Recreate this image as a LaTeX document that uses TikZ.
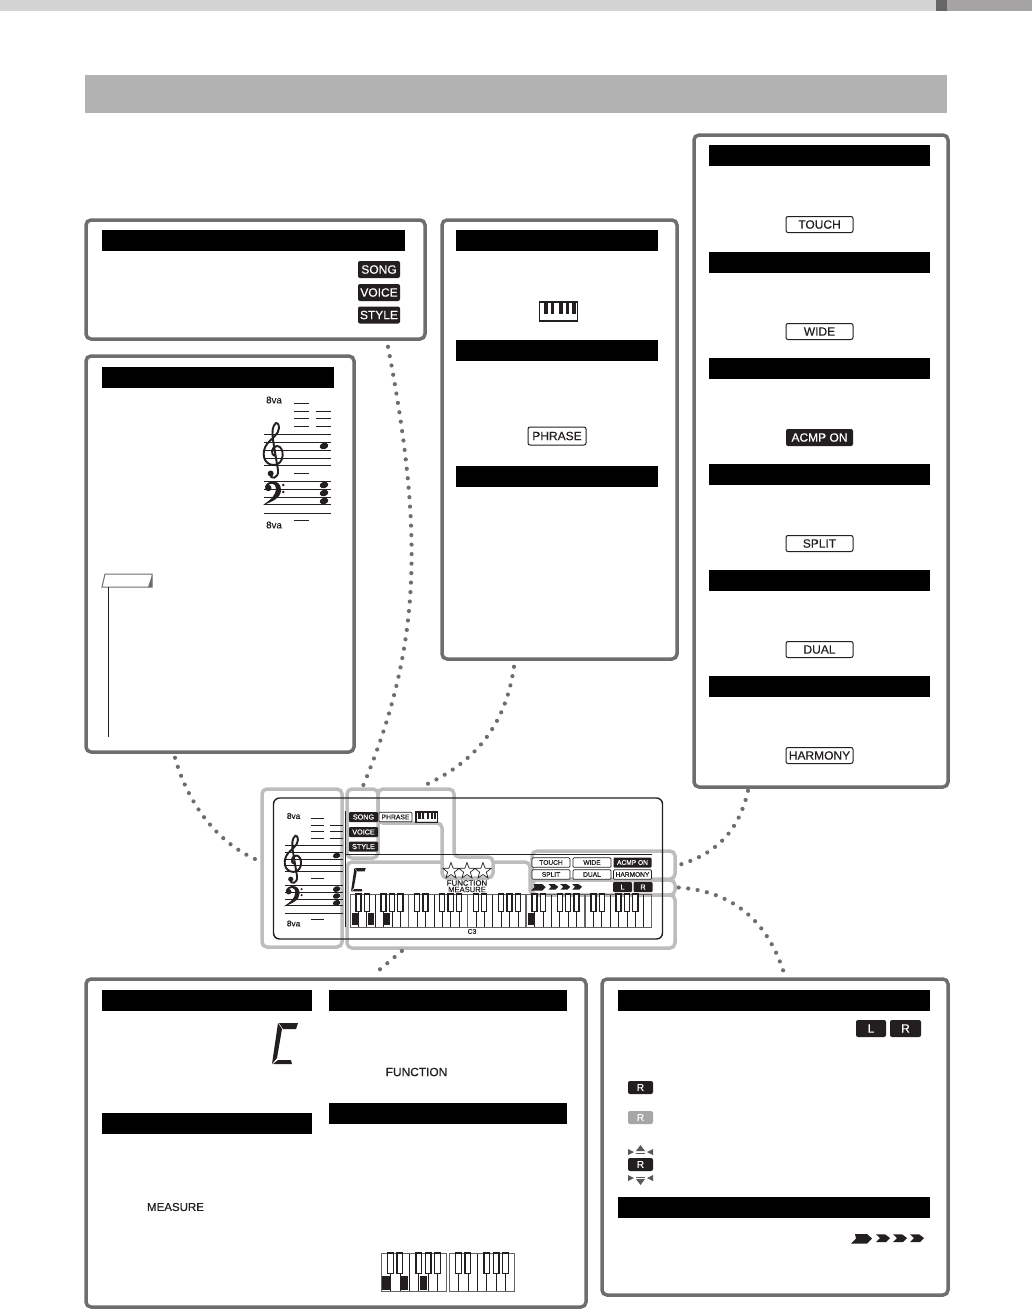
\documentclass[tikz,border=0pt]{standalone}
\usepackage{fontspec}
\setmainfont[FakeBold=.4]{Liberation Sans}
\usepackage{xcolor}
\definecolor{topl}{HTML}{D3D3D3}
\definecolor{topm}{HTML}{666666}
\definecolor{topr}{HTML}{A5A3A3}
\definecolor{band}{HTML}{B2B2B2}
\definecolor{edge}{HTML}{6E6E6E}
\definecolor{hilite}{HTML}{BDBDBD}
\definecolor{ink}{HTML}{231F20}
\usetikzlibrary{arrows.meta,positioning,calc,shapes.geometric}
\tikzset{
  panel/.style={draw=edge,line width=3.5pt,rounded corners=5pt,fill=white,inner sep=0pt},
  hdr/.style={fill=black,inner sep=0pt,minimum height=21pt},
  bigon/.style={fill=ink,text=white,rounded corners=2pt,inner sep=0pt,minimum height=17pt,font=\fontsize{12}{12}\selectfont},
  bigoff/.style={draw=ink,line width=1pt,fill=white,text=ink,rounded corners=2pt,inner sep=0pt,minimum height=16pt,font=\fontsize{12}{12}\selectfont},
  lcdon/.style={fill=ink,text=white,rounded corners=1pt,inner sep=0pt,minimum height=10pt,font=\fontsize{7.2}{7.2}\selectfont},
  lcdoff/.style={draw=ink,line width=.7pt,fill=white,text=ink,rounded corners=1pt,inner sep=0pt,minimum height=9.5pt,font=\fontsize{7}{7}\selectfont},
  lbl/.style={inner sep=0pt,text=ink},
  callout/.style={draw=hilite,line width=3.5pt,rounded corners=5pt},
  dotlink/.style={draw=edge,line width=4.2pt,line cap=round,dash pattern=on 0pt off 9.5pt},
  keyline/.style={draw=ink,line width=.6pt},
  blackkey/.style={draw=ink,line width=1.3pt,fill=white},
}
% x, y, key width, height, last divider
\newcommand{\octave}[5]{%
  \begin{scope}[shift={(#1,#2)}]
    \foreach \k in {1,...,#5}{ \draw[keyline] (\k*#3,0) -- (\k*#3,#4); }
    \pgfmathtruncatemacro{\nkeys}{#5+1}
    \draw[keyline,draw=ink!70] (0,0) rectangle (\nkeys*#3-.6,#4);
    \foreach \b in {1,2,4,5,6}{ \draw[blackkey] (\b*#3-.3*#3,0) rectangle (\b*#3+.3*#3,.54*#4); }
  \end{scope}}
\newcommand{\litkey}[4]{\fill[ink] (#1,#2) rectangle ++(.72*#3,#4);}
\newcommand{\lcddigit}[3]{%
  \begin{scope}[shift={(#1,#2)},scale=#3]
    \fill[ink] (6,0) -- (10,6) -- (5,35) -- (0,41) -- cycle;
    \fill[ink] (7,0) -- (26,0) -- (24,6) -- (11,6) -- cycle;
    \fill[ink] (1,41) -- (6,37) -- (19,37) -- (20,41) -- cycle;
  \end{scope}}
\newcommand{\chevrons}[3]{%
  \begin{scope}[shift={(#1,#2)},scale=#3]
    \fill[ink] (4,0) -- (16,0) -- (21,4.5) -- (16,9.5) -- (0,9.5) -- (5,4.5) -- cycle;
    \foreach \i in {0,1,2}{ \fill[ink] (25+\i*17,.3) -- (34+\i*17,.3) -- (39+\i*17,4) -- (35+\i*17,8) -- (25+\i*17,8) -- (29+\i*17,4) -- cycle; }
  \end{scope}}
\newcommand{\staffs}[3]{%
  \begin{scope}[shift={(#1,#2)},scale=#3,every node/.style={transform shape}]
    \node[lbl,font=\fontsize{9.7}{9.7}\selectfont] (#1oct) at (10,0) {8va};
    \node[lbl,font=\fontsize{9.7}{9.7}\selectfont] (#1ocb) at (10,125) {8va};
    \foreach \y in {3,11,18,26,73,120}{ \draw[ink,line width=.9pt] (30,\y) -- (45,\y); }
    \foreach \y in {11,18,26}{ \draw[ink,line width=.9pt] (52,\y) -- (67,\y); }
    \foreach \y in {34,42,50,58,65,81,89,97,104,113}{ \draw[ink,line width=.9pt] (0,\y) -- (67,\y); }
    \foreach \y in {46,85,93,101}{ \fill[ink,rotate around={18:(60,\y)}] (60,\y) ellipse (4.4 and 3.2); }
    \draw[ink,line width=1.9pt] (12,56) .. controls (5,55) and (8,46) .. (13,46) .. controls (21,46) and (21,65) .. (10,65)
      .. controls (-1,65) and (-3,52) .. (3,44) .. controls (8,38) and (15,34) .. (15,28)
      .. controls (15,24) and (13,22) .. (12,23) .. controls (8,26) and (8,33) .. (9,40) -- (14,70)
      .. controls (15,79) and (6,80) .. (6,74);
    \fill[ink] (6.7,73.5) circle (3);
    \fill[ink] (1,87) .. controls (2,80) and (17,78) .. (17,90) .. controls (17,98) and (8,102) .. (-1,105)
      .. controls (6,100) and (12,96) .. (12,88) .. controls (12,83) and (5,82) .. (3,87) -- cycle;
    \fill[ink] (4.3,88) circle (3.2) (19.3,85) circle (1.4) (19.3,92) circle (1.4);
  \end{scope}}
\newcommand{\kbdicon}[3]{%
  \begin{scope}[shift={(#1,#2)},scale=#3]
    \draw[ink,line width=1.2pt] (0,0) rectangle (38,19);
    \foreach \b in {4.3,11,19.3,26,32.7}{ \fill[ink] (\b,0) rectangle ++(3.8,12); }
  \end{scope}}

\begin{document}
\begin{tikzpicture}[x=1pt,y=-1pt]
\useasboundingbox (0,0) rectangle (1032,1310);
\fill[topl] (0,0) rectangle (936,11);
\fill[topm] (936,0) rectangle (947,11);
\fill[topr] (947,0) rectangle (1032,11);
\fill[band] (85,75) rectangle (947,113);

% panels
\node[panel,minimum width=339pt,minimum height=119pt] (songpanel) at (255.5,279.5) {};
\node[panel,minimum width=268pt,minimum height=396pt] (staffpanel) at (220,554) {};
\node[panel,minimum width=235pt,minimum height=439pt] (phrasepanel) at (559.5,439.5) {};
\node[panel,minimum width=254pt,minimum height=652pt] (modepanel) at (821,461) {};
\node[panel,minimum width=500pt,minimum height=328pt] (infopanel) at (336,1143) {};
\node[panel,minimum width=346pt,minimum height=316pt] (partpanel) at (775,1137) {};

% headers
\node[hdr,minimum width=303pt] (songhdr) at (253.5,240) {};
\node[hdr,minimum width=232pt] (staffhdr) at (218,377) {};
\foreach \y/\nm in {240/keys,350/phrase,476/stars}{ \node[hdr,minimum width=202pt] (\nm hdr) at (557,\y) {}; }
\node[hdr,minimum width=210pt] (digithdr) at (207,1000.5) {};
\node[hdr,minimum width=210pt] (meashdr) at (207,1123.5) {};
\node[hdr,minimum width=238pt] (funchdr) at (448,1000.5) {};
\node[hdr,minimum width=238pt] (kbdhdr) at (448,1113.5) {};
\node[hdr,minimum width=312pt] (lrhdr) at (774,1000.5) {};
\node[hdr,minimum width=312pt] (beathdr) at (774,1207.5) {};

% mode buttons
\foreach \y/\nm/\txt/\sty in {145/touch/TOUCH/bigoff,252/wide/WIDE/bigoff,358/acmp/ACMP ON/bigon,464/split/SPLIT/bigoff,570/dual/DUAL/bigoff,676/harm/HARMONY/bigoff}{
  \node[hdr,minimum width=221pt] (\nm hdr) at (819.5,\y+10) {};
  \node[\sty,minimum width=67pt] (\nm btn) at (819.5,\y+79.5) {\txt};
}

\foreach \y/\txt in {269.5/SONG,292.5/VOICE,315/STYLE}{ \node[bigon,minimum width=42pt] (big\txt) at (379,\y) {\txt}; }
\kbdicon{539.5}{302}{1}
\node[bigoff,minimum width=58pt,minimum height=18pt] (bigphrase) at (557,436) {PHRASE};
\staffs{264}{400}{1}
\node[lbl,font=\fontsize{11.9}{11.9}\selectfont] (bigfunc) at (416.5,1072) {FUNCTION};
\node[lbl,font=\fontsize{11.5}{11.5}\selectfont] (bigmeas) at (175.5,1207) {MEASURE};
\lcddigit{272}{1023}{1}
\octave{381}{1253}{9.43}{38}{6}
\octave{449}{1253}{9.43}{38}{6}
\foreach \x in {382,400.5,419.5}{ \litkey{\x}{1276}{10.5}{14}; }

% note tab
\draw[edge,line width=1pt,fill=white] (102,587) -- (105,574) -- (152,574) -- (152,587) -- cycle;
\fill[edge] (152,575) -- (148,587) -- (152,587) -- cycle;
\draw[ink,line width=1pt] (108,587) -- (108,737);

% part badges
\node[bigon,minimum width=30pt] (bigl) at (871,1028.5) {L};
\node[bigon,minimum width=31pt] (bigr) at (905.5,1028.5) {R};
\foreach \y/\sty/\nm in {1087.5/ink/on,1117.5/ink!40/off,1164.5/ink/blink}{
  \node[bigon,fill=\sty,minimum width=25pt,minimum height=13pt,font=\fontsize{10}{10}\selectfont] (part\nm) at (640.5,\y) {R};
}
\fill[ink!75] (640.5,1145) -- (645,1151) -- (636,1151) -- cycle;
\draw[ink!75,line width=.8pt] (636,1153) -- (645,1153);
\fill[ink!75] (640.5,1185) -- (645,1179) -- (636,1179) -- cycle;
\draw[ink!75,line width=.8pt] (636,1177) -- (645,1177);
\fill[ink!75] (628,1149) -- (634,1152) -- (628,1155) -- cycle;
\fill[ink!75] (653,1149) -- (647,1152) -- (653,1155) -- cycle;
\fill[ink!75] (628,1175) -- (634,1178) -- (628,1181) -- cycle;
\fill[ink!75] (653,1175) -- (647,1178) -- (653,1181) -- cycle;
\chevrons{851}{1234}{1}

% display callouts
\node[callout,minimum width=80pt,minimum height=158pt,inner sep=0pt] (staffcall) at (302,868) {};
\node[callout,minimum width=31pt,minimum height=69pt,inner sep=0pt] (songcall) at (362.5,823.5) {};
\draw[callout] (378,789) -- (454,789) -- (454,857) -- (493,857) -- (493,878) -- (442,878) -- (442,823) -- (378,823) -- cycle;
\draw[callout] (442,862) -- (347,862) -- (347,948) -- (675,948) -- (675,895) -- (530,895) -- (530,862) -- (493,862);
\node[callout,minimum width=143pt,minimum height=28pt,inner sep=0pt] (touchcall) at (603.5,865) {};
\node[callout,minimum width=143pt,minimum height=15pt,inner sep=0pt] (lrcall) at (603.5,887.5) {};
\coordinate (phraseout) at (423,786);
\coordinate (keysout) at (403,950);

% display
\node[draw=ink,line width=1.4pt,rounded corners=6pt,minimum width=389pt,minimum height=141pt,inner sep=0pt] (lcd) at (468,868.5) {};
\draw[ink,line width=1pt] (345,811) -- (345,927);
\draw[ink,line width=.7pt] (345,854) -- (652,854);
\staffs{285}{816}{.86}
\foreach \y/\txt in {817/SONG,832/VOICE,846.5/STYLE}{ \node[lcdon,minimum width=29pt] (lcd\txt) at (363.5,\y) {\txt}; }
\node[lcdoff,minimum width=33pt,font=\fontsize{6.8}{6.8}\selectfont] (lcdphrase) at (395.5,817) {PHRASE};
\kbdicon{416}{812}{.56}
\foreach \x in {451,467,483}{ \node[star,star points=5,star point ratio=2.4,draw=ink,line width=.7pt,fill=white,minimum size=17pt,inner sep=0pt] (star\x) at (\x,871) {}; }
\node[lbl,font=\fontsize{7.8}{7.8}\selectfont] (lcdfunc) at (467,883) {FUNCTION};
\node[lbl,font=\fontsize{7.6}{7.6}\selectfont] (lcdmeas) at (467,889.5) {MEASURE};
\lcddigit{351}{868}{.57}
\foreach \x/\y/\nm/\txt/\sty in {551/862.5/touch/TOUCH/lcdoff,592/862.5/wide/WIDE/lcdoff,632.5/862.5/acmp/ACMP ON/lcdon,551/874.5/split/SPLIT/lcdoff,592/874.5/dual/DUAL/lcdoff,632.5/874.5/harm/HARMONY/lcdoff}{
  \node[\sty,minimum width=38pt,font=\fontsize{6.6}{6.6}\selectfont] (lcd\nm) at (\x,\y) {\txt};
}
\node[lcdon,minimum width=19pt] (lcdl) at (622.5,887) {L};
\node[lcdon,minimum width=19pt] (lcdr) at (643,887) {R};
\chevrons{531}{884}{.7}
\foreach \x in {350,408.7,467.5,526.2}{ \octave{\x}{894}{8.39}{33}{6} }
\octave{585}{894}{8.39}{33}{7}
\foreach \x in {351.5,367.5,384,527.5}{ \litkey{\x}{913}{8.39}{12}; }
\node[lbl,font=\fontsize{6.8}{6.8}\selectfont] (lcdcthree) at (472,931.5) {C3};

% links
\draw[dotlink] ([xshift=132.5pt,yshift=-6pt]songpanel.south) .. controls (425,540) and (420,650) .. (songcall.north);
\draw[dotlink] ([xshift=-45.5pt,yshift=-6pt]phrasepanel.south) .. controls (505,730) and (470,765) .. (phraseout);
\draw[dotlink] ([xshift=-45pt,yshift=-4pt]staffpanel.south) .. controls (190,810) and (222,845) .. ([yshift=8pt,xshift=-3pt]staffcall.west);
\draw[dotlink] ([xshift=-73pt,yshift=-2pt]modepanel.south) .. controls (738,835) and (712,855) .. ([xshift=2pt]touchcall.east);
\draw[dotlink] ([xshift=2pt]lrcall.east) .. controls (745,892) and (772,935) .. ([xshift=9pt,yshift=4pt]partpanel.north);
\draw[dotlink] ([xshift=44pt,yshift=8pt]infopanel.north) -- (keysout);
\end{tikzpicture}
\end{document}
